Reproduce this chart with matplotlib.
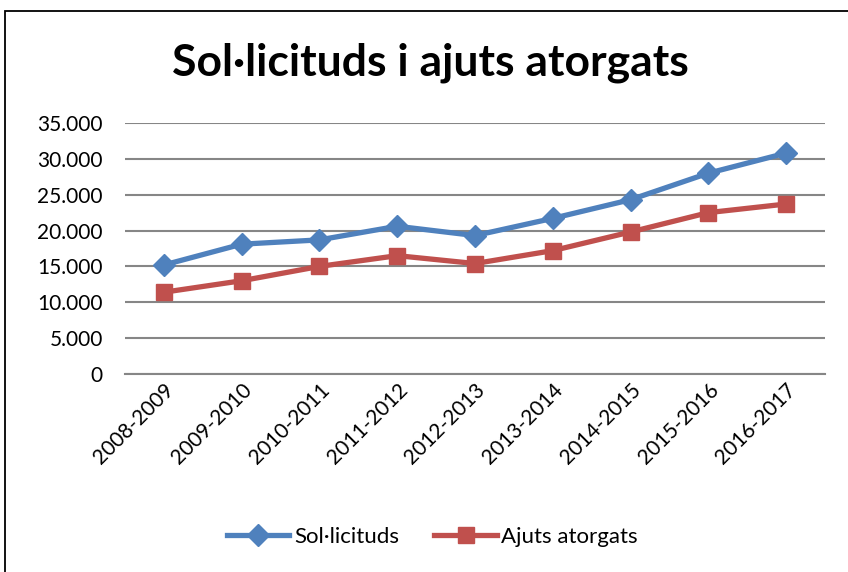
import matplotlib.pyplot as plt
from matplotlib.patches import Rectangle
from matplotlib.ticker import FuncFormatter

plt.rcParams['font.family'] = ['Lato', 'DejaVu Sans']

# Data
cursos = ['2008-2009', '2009-2010', '2010-2011', '2011-2012', '2012-2013',
          '2013-2014', '2014-2015', '2015-2016', '2016-2017']
sollicituds = [15200, 18100, 18700, 20600, 19300, 21700, 24300, 28000, 30800]
ajuts = [11400, 13000, 15000, 16500, 15400, 17200, 19800, 22500, 23700]

fig = plt.figure(figsize=(8.48, 5.72), dpi=100)
ax = fig.add_axes([0.1474, 0.3462, 0.8255, 0.4388])

# outer chart frame
fig.patches.append(Rectangle((5 / 848, -0.05), 1.2, (572 - 11) / 572 + 0.05,
                             transform=fig.transFigure, fill=False,
                             edgecolor='black', linewidth=1.3))

x = range(len(cursos))
ax.plot(x, sollicituds, color='#4F81BD', linewidth=3.8, marker='D',
        markersize=11, label='Sol·licituds')
ax.plot(x, ajuts, color='#C0504D', linewidth=3.8, marker='s',
        markersize=12, label='Ajuts atorgats')

ax.set_xlim(-0.5, len(cursos) - 0.5)
ax.set_ylim(0, 35000)
ax.set_yticks(range(0, 35001, 5000))
ax.yaxis.set_major_formatter(FuncFormatter(
    lambda v, p: '0' if v == 0 else f'{int(v):,}'.replace(',', '.')))
ax.grid(axis='y', color='#868686', linewidth=1.5)
ax.set_axisbelow(True)
for s in ['top', 'right', 'left']:
    ax.spines[s].set_visible(False)
ax.spines['bottom'].set_color('#868686')
ax.spines['bottom'].set_linewidth(1.5)
ax.tick_params(axis='y', length=0, labelsize=15, pad=16)
ax.tick_params(axis='x', length=0, labelsize=15, pad=4)
ax.set_xticks(list(x))
ax.set_xticklabels(cursos, rotation=45, ha='right', rotation_mode='anchor')

fig.text(0.508, 0.89, 'Sol·licituds i ajuts atorgats', ha='center',
         va='center', fontsize=32, fontweight='bold')

fig.legend(loc='center', bbox_to_anchor=(0.51, 0.062), ncol=2, frameon=False,
           fontsize=16, handlelength=2.8, columnspacing=1.6, handletextpad=0.2)

fig.savefig('out.png', dpi=100)
